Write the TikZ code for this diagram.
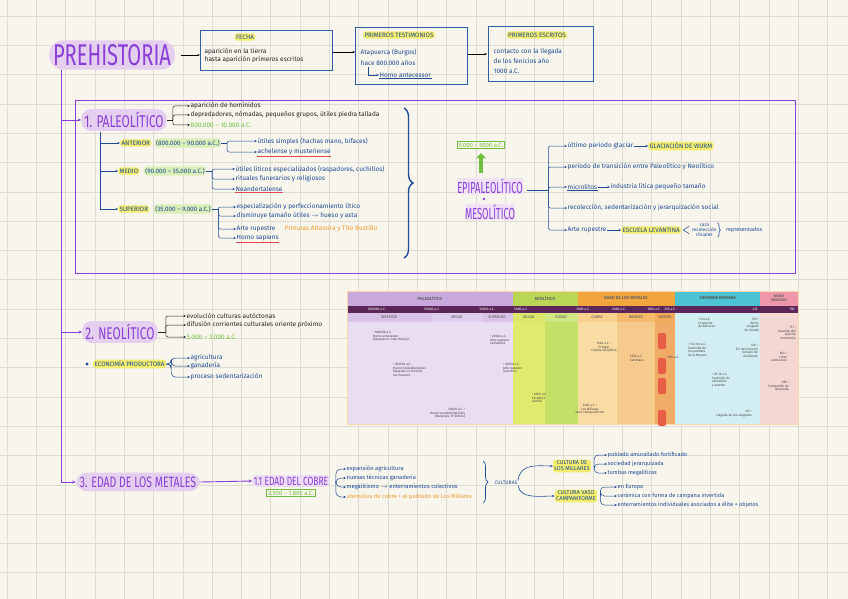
\documentclass[tikz,border=0pt]{standalone}
\usepackage{fontspec}
\setmainfont{Fira Sans}
\usetikzlibrary{arrows.meta,calc,positioning,decorations.pathreplacing}
\definecolor{PaperClr}{HTML}{F8F6EC}
\definecolor{GridClr}{HTML}{DCDCD4}
\definecolor{InkClr}{HTML}{1E4A96}
\definecolor{BoxClr}{HTML}{2F5DA6}
\definecolor{PurpleClr}{HTML}{8B3FD6}
\definecolor{LilacClr}{HTML}{E4CFEF}
\definecolor{HlClr}{HTML}{F3EC6C}
\definecolor{LimeClr}{HTML}{DAEEB8}
\definecolor{GreenClr}{HTML}{6FBF3C}
\definecolor{RedClr}{HTML}{E4484E}
\definecolor{OrangeClr}{HTML}{F29A2E}
% timeline colours
\definecolor{PalHd}{HTML}{C9A9DD}
\definecolor{PalSub}{HTML}{D8C3E7}
\definecolor{PalBg}{HTML}{E9DDF1}
\definecolor{NeoHd}{HTML}{B9D654}
\definecolor{IniBg}{HTML}{E2EA6E}
\definecolor{PleBg}{HTML}{C4E067}
\definecolor{MetHd}{HTML}{F2A53C}
\definecolor{CobBg}{HTML}{F9DCA4}
\definecolor{BroBg}{HTML}{F6C98C}
\definecolor{HieBg}{HTML}{F0AC66}
\definecolor{RomHd}{HTML}{4CC3D2}
\definecolor{RomBg}{HTML}{D3EEF3}
\definecolor{VisHd}{HTML}{EE97AA}
\definecolor{VisBg}{HTML}{F4D6D2}
\definecolor{BandClr}{HTML}{5C2758}
\newcommand{\narrow}[2][0.64]{\scalebox{#1}[1]{#2}}

\begin{document}
\begin{tikzpicture}[x=1pt,y=-1pt,
  ink/.style={font=\fontsize{6.5}{7}\selectfont,text=InkClr,inner sep=0.5pt,anchor=west},
  blk/.style={ink,text=black!85},
  tag/.style={font=\fontsize{6.3}{6.6}\selectfont,text=InkClr,fill=HlClr,rounded corners=3pt,inner sep=1.4pt},
  datehl/.style={tag,fill=LimeClr},
  blob/.style={text=PurpleClr,fill=LilacClr,rounded corners=9pt,inner sep=3pt},
  infobox/.style={draw=BoxClr,line width=0.9pt,anchor=north west},
  gbox/.style={draw=GreenClr,line width=0.8pt,text=GreenClr,font=\fontsize{6}{6}\selectfont,inner sep=1.6pt},
  arr/.style={InkClr,line width=0.5pt,-{Stealth[length=2.5pt,width=2.2pt]}},
  parr/.style={PurpleClr,line width=0.9pt,-{Stealth[length=3.5pt,width=3pt]}},
  tl/.style={font=\fontsize{3.2}{3.7}\selectfont,text=black!75,align=left,inner sep=0pt,anchor=north west},
  tlhd/.style={font=\bfseries\fontsize{4.3}{4.6}\selectfont,inner sep=0pt,align=center},
  tlsub/.style={font=\fontsize{3.8}{4}\selectfont,text=black!70,inner sep=0pt},
  tldate/.style={font=\fontsize{3.4}{3.6}\selectfont,text=white,inner sep=0pt},
]
\useasboundingbox (0,0) rectangle (848,599);
\fill[PaperClr] (0,0) rectangle (848,599);
\foreach \x in {7,36.3,...,848} \draw[GridClr,line width=0.6pt] (\x,0) -- (\x,599);
\foreach \y in {16,45.3,...,599} \draw[GridClr,line width=0.6pt] (0,\y) -- (848,\y);

% title and first boxes
\node[blob,font=\fontsize{30}{30}\selectfont,rounded corners=14pt,inner sep=4pt] (prehist) at (112,55) {\narrow[0.67]{PREHISTORIA}};
\coordinate (spine) at (61,70);

\node[infobox,minimum width=132pt,minimum height=40pt] (fecha) at (200,30) {};
\node[tag] at (245,37) {FECHA};
\node[blk] (f1) at (204,52) {aparición en la tierra};
\node[blk] (f2) at (204,60) {hasta aparición primeros escritos};

\node[infobox,minimum width=112pt,minimum height=57pt] (testim) at (355,27) {};
\node[tag] at (399,35) {PRIMEROS TESTIMONIOS};
\node[ink] (t1) at (360,52) {Atapuerca (Burgos)};
\node[ink] (t2) at (360,63) {hace 800.000 años};
\node[ink] (t3) at (379,75) {Homo antecessor};
\draw[InkClr,line width=0.6pt] (t3.south west) -- (t3.south east);
\draw[arr] (t2.south west) ++(8,1) |- (t3.west);

\node[infobox,minimum width=105pt,minimum height=55pt] (escr) at (488,26) {};
\node[tag] at (537,35) {PRIMEROS ESCRITOS};
\node[ink] (s1) at (493,52) {contacto con la llegada};
\node[ink] (s2) at (493,61) {de los fenicios año};
\node[ink] (s3) at (493,71) {1000 a.C.};

\draw[black,line width=0.6pt,-{Stealth[length=2.5pt]},shorten <=6pt] (prehist.east) -- (prehist.east -| fecha.west);
\draw[arr,black] (fecha.east |- f1) -- (f1 -| testim.west);
\draw[arr,black] (testim.east |- s1) ++(0,2) -- ++(19,0);

% paleolitico
\draw[PurpleClr,line width=0.8pt] (75,100) rectangle (795,273);
\node[blob,font=\fontsize{17}{17}\selectfont] (paleo) at (124,120) {\narrow[0.7]{1. PALEOLÍTICO}};
\node[blk] (p1) at (190,106) {aparición de homínidos};
\node[blk] (p2) at (190,115) {depredadores, nómadas, pequeños grupos, útiles piedra tallada};
\node[ink,text=GreenClr] (p3) at (190,125) {800.000 – 10.000 a.C.};
\draw[black!85,line width=0.5pt] (paleo.east) -- ++(6,0) coordinate (pb);
\foreach \t in {p1,p2,p3} \draw[arr,black!85,rounded corners=2pt] (pb) |- (\t.west);

\coordinate (sub) at (100,132);
\node[tag,anchor=west] (inf) at (120,143) {ANTERIOR};
\node[datehl,right=3pt of inf] (infd) {(800.000 – 90.000 a.C.)};
\node[tag,anchor=west] (med) at (118,171) {MEDIO};
\node[datehl,right=4pt of med] (medd) {(90.000 – 35.000 a.C.)};
\node[tag,anchor=west] (sup) at (118,209) {SUPERIOR};
\node[datehl,right=4pt of sup] (supd) {(35.000 – 9.000 a.C.)};
\foreach \t in {inf,med,sup} \draw[arr] (sub) |- (\t.west);

\node[ink] (a1) at (257,141) {útiles simples (hachas mano, bifaces)};
\node[ink] (a2) at (257,152) {achelense y musteriense};
\draw[RedClr,line width=0.6pt] (a2.south west) -- (a2.south east);
\node[ink] (m1) at (235,169) {útiles líticos especializados (raspadores, cuchillos)};
\node[ink] (m2) at (235,179) {rituales funerarios y religiosos};
\node[ink] (m3) at (235,189) {Neandertalense};
\draw[RedClr,line width=0.6pt] (m3.south west) -- (m3.south east);
\node[ink] (u1) at (236,207) {especialización y perfeccionamiento lítico};
\node[ink] (u2) at (236,216) {disminuye tamaño útiles $\to$ hueso y asta};
\node[ink] (u3) at (236,229) {Arte rupestre};
\node[ink,text=OrangeClr,right=8pt of u3] (u3b) {Pinturas Altamira y Tito Bustillo};
\node[ink] (u4) at (236,238) {Homo sapiens};
\draw[RedClr,line width=0.6pt] (u4.south west) -- (u4.south east);
\draw[InkClr,line width=0.5pt] (infd.east) -- ++(6,0) coordinate (ib);
\foreach \t in {a1,a2} \draw[arr,rounded corners=2pt] (ib) |- (\t.west);
\draw[InkClr,line width=0.5pt] (medd.east) -- ++(6,0) coordinate (mb);
\foreach \t in {m1,m2,m3} \draw[arr,rounded corners=2pt] (mb) |- (\t.west);
\draw[InkClr,line width=0.5pt] (supd.east) -- ++(6,0) coordinate (sb);
\foreach \t in {u1,u2,u3,u4} \draw[arr,rounded corners=2pt] (sb) |- (\t.west);

\draw[InkClr,line width=1.4pt,decorate,decoration={brace,amplitude=9pt}] (404,108) -- (404,258);

% epipaleolitico
\node[text=PurpleClr,font=\fontsize{16}{16}\selectfont,inner sep=0.5pt,fill=LilacClr!60] (epi) at (490,186) {\narrow[0.58]{EPIPALEOLÍTICO}};
\fill[PurpleClr] (484,199) circle (1.3pt) coordinate (dot);
\node[text=PurpleClr,font=\fontsize{16}{16}\selectfont,inner sep=0.5pt,fill=LilacClr!60] (meso) at (490,212) {\narrow[0.58]{MESOLÍTICO}};
\node[gbox] (epid) at (481,145) {9.000 – 5000 a.C.};
\draw[GreenClr,line width=3.5pt,-{Triangle[length=5pt,width=10pt]}] (epi.north -| epid) ++(0,-5) -- ([yshift=-4pt]epid.south);

\node[ink] (e1) at (567,146) {último periodo glaciar};
\node[tag,right=14pt of e1] (wurm) {GLACIACIÓN DE WURM};
\node[ink] (e2) at (567,167) {periodo de transición entre Paleolítico y Neolítico};
\node[ink] (e3) at (567,187) {microlitos};
\draw[InkClr,line width=0.5pt] (e3.south west) -- (e3.south east);
\node[ink,right=12pt of e3] (e3b) {industria lítica pequeño tamaño};
\node[ink] (e4) at (567,208) {recolección, sedentarización y jerarquización social};
\node[ink] (e5) at (567,230) {Arte rupestre};
\node[tag,right=14pt of e5] (lev) {ESCUELA LEVANTINA};
\node[ink,font=\fontsize{4.8}{5.2}\selectfont,align=center,right=10pt of lev] (reps) {caza\\recolección\\rituales};
\node[ink,right=8pt of reps,font=\fontsize{5.5}{6}\selectfont] (repr) {representados};
\draw[arr] (e1) -- (wurm);
\draw[arr] (e3) -- (e3b);
\draw[arr] (e5) -- (lev);
\draw[InkClr,line width=0.5pt] ([xshift=8pt]lev.north east) -- ([xshift=2pt]lev.east) -- ([xshift=8pt]lev.south east);
\draw[InkClr,line width=0.6pt,decorate,decoration={brace,amplitude=3pt}] (reps.north east) -- (reps.south east);
\draw[InkClr,line width=0.5pt] (epi.east |- dot) ++(4,-9) -- ++(21,0) coordinate (eb);
\foreach \t in {e1,e2,e3,e4,e5} \draw[arr,rounded corners=2pt] (eb) |- (\t.west);

% timeline
\fill[PalBg] (347,322) rectangle (513,424);
\fill[IniBg] (513,322) rectangle (545,424);
\fill[PleBg] (545,322) rectangle (578,424);
\fill[CobBg] (578,322) rectangle (617,424);
\fill[BroBg] (617,322) rectangle (655,424);
\fill[HieBg] (655,322) rectangle (675,424);
\fill[RomBg] (675,322) rectangle (760,424);
\fill[VisBg] (760,322) rectangle (798,424);
\fill[PalHd] (347,291) rectangle (513,306);
\fill[NeoHd] (513,291) rectangle (578,306);
\fill[MetHd] (578,291) rectangle (675,306);
\fill[RomHd] (675,291) rectangle (760,306);
\fill[VisHd] (760,291) rectangle (798,306);
\fill[BandClr] (347,306) rectangle (798,313);
\fill[PalSub] (347,313) rectangle (432,322);
\fill[PalSub!80] (432,313) rectangle (482,322);
\fill[PalSub] (482,313) rectangle (513,322);
\fill[IniBg!80!PleBg] (513,313) rectangle (545,322);
\fill[PleBg!80] (545,313) rectangle (578,322);
\fill[CobBg!80!MetHd] (578,313) rectangle (617,322);
\fill[BroBg!60!MetHd] (617,313) rectangle (655,322);
\fill[HieBg!70!MetHd] (655,313) rectangle (675,322);
\fill[RomBg] (675,313) rectangle (760,322);
\fill[VisBg] (760,313) rectangle (798,322);
\draw[OrangeClr!40,line width=1pt] (347,291) rectangle (798,424);
\foreach \y in {333,358,378,410} \fill[RedClr!75!OrangeClr,rounded corners=2pt] (658,\y) rectangle (666,\y+16);

\node[tlhd,text=black!60] at (430,298.5) {PALEOLÍTICO};
\node[tlhd,text=black!60] at (545,298.5) {NEOLÍTICO};
\node[tlhd,text=black!60] at (626,298.5) {EDAD DE LOS METALES};
\node[tlhd,text=black!65] at (718,298.5) {HISPANIA ROMANA};
\node[tlhd,text=black!60,font=\bfseries\fontsize{3.6}{3.8}\selectfont] at (779,298.5) {REINO\\VISIGODO};
\foreach \x/\d in {377/800000 a.C.,432/90000 a.C.,487/35000 a.C.,521/5000 a.C.,583/3000 a.C.,619/2000 a.C.,654/1800 a.C.,670/218 a.C.,755/476,792/700}
  \node[tldate] at (\x,309.5) {\d};
\foreach \x/\s in {389/INFERIOR,457/MEDIO,497/SUPERIOR,529/INICIAL,561/PLENO,597/COBRE,636/BRONCE,665/HIERRO}
  \node[tlsub] at (\x,317.5) {\s};

\node[tl] at (373,331) {• 800000 a.C.\\Homo antecessor\\(Atapuerca: Gran Dolina)};
\node[tl] at (393,363) {• 350000 a.C.\\Homo heidelbergensis\\(Atapuerca: Sima de\\los Huesos)};
\node[tl,align=right,anchor=north east] at (465,408) {45000 a.C. •\\Homo neanderthalensis\\(Banyoles, El Sidrón)};
\node[tl] at (490,335) {• 25000 a.C.\\Arte rupestre\\cantábrico};
\node[tl] at (503,363) {• 20000 a.C.\\Arte rupestre\\levantino};
\node[tl] at (532,393) {• 6500 a.C.\\Cerámica\\cardial};
\node[tl,align=center,anchor=north] at (590,404) {2400 a.C. •\\Los Millares\\Vaso campaniforme};
\node[tl,align=center,anchor=north] at (604,342) {1900 a.C. •\\El Argar\\Cultura talayótica};
\node[tl] at (630,355) {1500 a.C.\\Tartessos};
\node[tl] at (666,356) {• 500 a.C.};
\node[tl] at (698,318) {• 123 a.C.\\Conquista\\de Baleares};
\node[tl] at (688,343) {• 154-133 a.C.\\Sumisión de\\los pueblos\\de la Meseta};
\node[tl] at (712,373) {• 29-19 a.C.\\Sumisión de\\cántabros\\y astures};
\node[tl,align=right,anchor=north east] at (759,318) {507 •\\Reino\\visigodo\\de Toledo};
\node[tl,align=right,anchor=north east] at (758,344) {476 •\\Fin del Imperio\\romano de\\Occidente};
\node[tl,align=right,anchor=north east] at (752,410) {415 •\\Llegada de los visigodos};
\node[tl,align=right,anchor=north east] at (796,326) {711 •\\Invasión del\\ejército\\musulmán};
\node[tl,align=right,anchor=north east] at (787,352) {654 •\\Liber\\Iudiciorum};
\node[tl,align=right,anchor=north east] at (789,381) {589 •\\Conversión de\\Recaredo};

% neolitico
\node[blob,font=\fontsize{17}{17}\selectfont] (neo) at (120,332) {\narrow[0.7]{2. NEOLÍTICO}};
\node[blk] (n1) at (186,316) {evolución culturas autóctonas};
\node[blk] (n2) at (186,325) {difusión corrientes culturales oriente próximo};
\node[ink,text=GreenClr] (n3) at (186,337) {5.000 – 3.000 a.C.};
\draw[black!85,line width=0.5pt] (neo.east) -- ++(8,0) coordinate (nb);
\foreach \t in {n1,n2,n3} \draw[arr,black!85,rounded corners=2pt] (nb) |- (\t.west);

\fill[InkClr] (87,364) circle (1.6pt) coordinate (bul);
\node[tag,anchor=west] (eco) at (93,364) {ECONOMÍA PRODUCTORA};
\node[ink] (o1) at (190,358) {agricultura};
\node[ink] (o2) at (190,366) {ganadería};
\node[ink] (o3) at (190,377) {proceso sedentarización};
\foreach \t in {o1,o2,o3} \draw[arr,rounded corners=4pt] (eco.east) -- ++(5,0) |- (\t.west);

% edad de los metales
\node[blob,font=\fontsize{15}{15}\selectfont,rounded corners=11pt,inner sep=4pt] (met) at (138,482) {\narrow[0.7]{3. EDAD DE LOS METALES}};
\draw[parr] (spine) |- (met.west);
\draw[parr] (spine |- paleo.west) -- (paleo.west);
\draw[parr] (spine |- neo.west) -- (neo.west);
\draw[PurpleClr,line width=0.8pt] (spine) -- (prehist.south -| spine);

\node[text=PurpleClr,fill=LilacClr!70,font=\fontsize{12}{12}\selectfont,inner sep=1.5pt,rounded corners=4pt] (cobre) at (291,481) {\narrow[0.7]{1.1 EDAD DEL COBRE}};
\node[gbox,below=2pt of cobre] (cobred) {2.500 – 1.800 a.C.};
\draw[parr] (met.east) -- (cobre.west);

\node[ink,font=\fontsize{5.8}{6}\selectfont] (c1) at (346,469) {expansión agricultura};
\node[ink,font=\fontsize{5.8}{6}\selectfont] (c2) at (346,478) {nuevas técnicas ganadería};
\node[ink,font=\fontsize{5.8}{6}\selectfont] (c3) at (346,487) {megalitismo $\to$ enterramientos colectivos};
\node[ink,font=\fontsize{5.8}{6}\selectfont,text=OrangeClr] (c4) at (346,497) {utensilios de cobre + el poblado de Los Millares};
\foreach \t in {c1,c2,c3,c4} \draw[arr,rounded corners=5pt] (cobre.east) ++(6,0) |- (\t.west);
\draw[InkClr,line width=0.7pt,decorate,decoration={brace,amplitude=5pt}] (483,461) -- (483,503);

\node[ink,font=\fontsize{5}{5.5}\selectfont,align=center] (cult) at (494,483) {CULTURAS};
\node[tag,align=center,font=\fontsize{5.6}{6}\selectfont] (mill) at (572,466) {CULTURA DE\\LOS MILLARES};
\node[tag,align=center,font=\fontsize{5.6}{6}\selectfont] (vaso) at (576,496) {CULTURA VASO\\CAMPANIFORME};
\draw[arr,line width=0.6pt] (cult.north east) .. controls +(2,-18) and +(-14,0) .. (mill.west);
\draw[arr,line width=0.6pt] (cult.south east) .. controls +(2,14) and +(-14,0) .. (vaso.west);

\node[ink,font=\fontsize{5.6}{6}\selectfont] (m1) at (607,455) {poblado amurallado fortificado};
\node[ink,font=\fontsize{5.6}{6}\selectfont] (m2) at (607,464) {sociedad jerarquizada};
\node[ink,font=\fontsize{5.6}{6}\selectfont] (m3) at (607,473) {tumbas megalíticas};
\foreach \t in {m1,m2,m3} \draw[arr,rounded corners=4pt] (mill.east) ++(3,0) |- (\t.west);
\node[ink,font=\fontsize{5.6}{6}\selectfont] (v1) at (617,487) {en Europa};
\node[ink,font=\fontsize{5.6}{6}\selectfont] (v2) at (617,496) {cerámica con forma de campana invertida};
\node[ink,font=\fontsize{5.6}{6}\selectfont] (v3) at (617,505) {enterramientos individuales asociados a élite + objetos};
\foreach \t in {v1,v2,v3} \draw[arr,rounded corners=4pt] (vaso.east) ++(3,0) |- (\t.west);
\end{tikzpicture}
\end{document}
